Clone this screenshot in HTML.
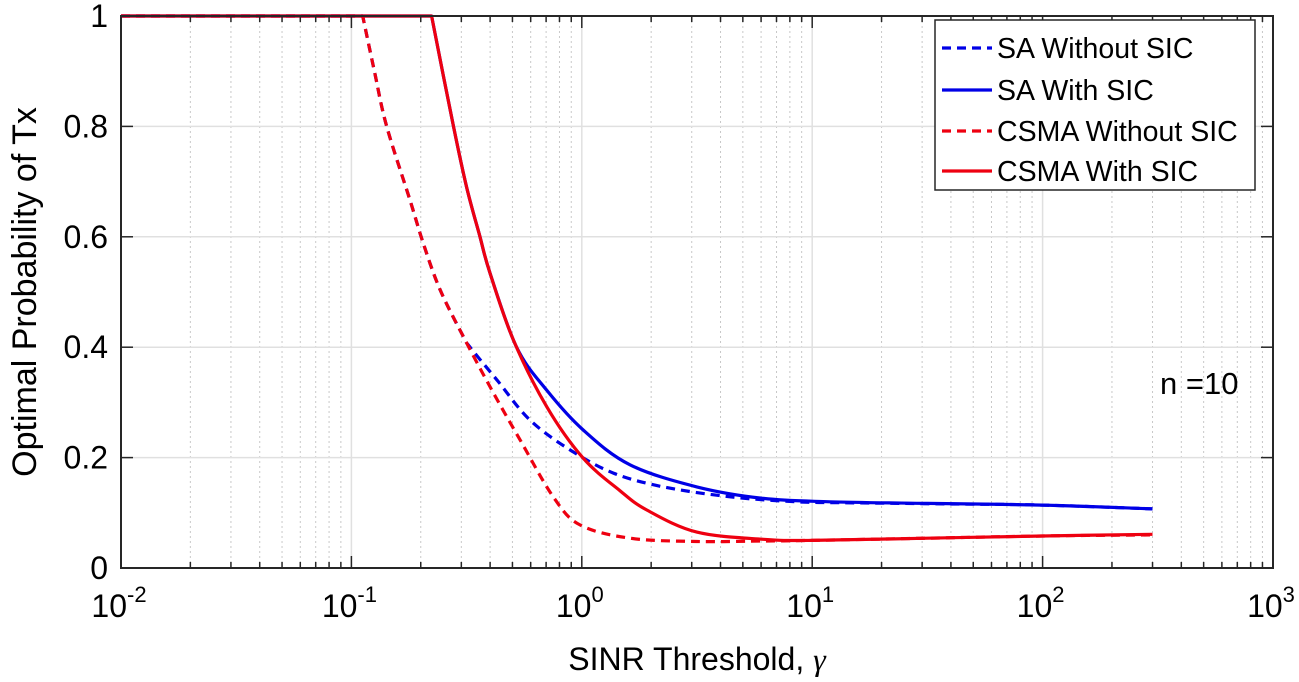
<!DOCTYPE html>
<html><head><meta charset="utf-8"><style>
body{margin:0;background:#fff;}
svg{display:block;font-family:"Liberation Sans",Arial,sans-serif;}
</style></head><body>
<svg id="chart" width="1299" height="682" viewBox="0 0 1299 682"></svg>
<script>
// Data: log10(gamma) and optimal probability
const saWithoutLogX = [-2,-0.951,-0.9,-0.847,-0.746,-0.688,-0.615,-0.514,-0.485,-0.369,-0.225,-0.051,0.137,0.354,0.643,0.932,1.2,1.6,2.0,2.477];
const saWithoutP    = [1,1,0.9,0.8,0.667,0.588,0.504,0.419,0.4,0.341,0.268,0.214,0.172,0.147,0.129,0.12,0.118,0.116,0.114,0.107];
const saWithLogX = [-2,-0.652,-0.557,-0.5,-0.442,-0.399,-0.283,-0.152,0.006,0.209,0.499,0.788,1.077,1.5,2.0,2.477];
const saWithP    = [1,1,0.8,0.69,0.6,0.535,0.4,0.322,0.25,0.187,0.147,0.126,0.12,0.117,0.114,0.107];
const csmaWithoutLogX = [-2,-0.951,-0.9,-0.847,-0.746,-0.688,-0.615,-0.514,-0.398,-0.268,-0.124,-0.008,0.209,0.499,0.8,1.0,1.5,2.0,2.477];
const csmaWithoutP    = [1,1,0.9,0.8,0.667,0.588,0.504,0.419,0.328,0.232,0.129,0.078,0.054,0.048,0.049,0.05,0.054,0.058,0.06];
const csmaWithLogX = [-2,-0.652,-0.557,-0.5,-0.442,-0.399,-0.297,-0.152,0.006,0.166,0.282,0.499,0.788,1.0,1.5,2.0,2.477];
const csmaWithP    = [1,1,0.8,0.69,0.6,0.535,0.413,0.292,0.199,0.14,0.105,0.065,0.052,0.05,0.054,0.058,0.061];
const xTickExps = [-2,-1,0,1,2,3];
const yTicks = [0,0.2,0.4,0.6,0.8,1];
const yTickLabels = ["0","0.2","0.4","0.6","0.8","1"];

const L=121,R=1273,T=16,B=568;
const X=lx=>L+(lx+2)/5*(R-L);
const Y=p=>B-p*(B-T);
const NS="http://www.w3.org/2000/svg";
const svg=document.getElementById('chart');
function mk(tag,attrs,parent){const e=document.createElementNS(NS,tag);for(const k in attrs)e.setAttribute(k,attrs[k]);(parent||svg).appendChild(e);return e;}

const grid=mk('g',{});


for(let d=-2;d<3;d++){for(let m=2;m<=9;m++){const x=X(d+Math.log10(m));mk('line',{x1:x,x2:x,y1:T,y2:B,stroke:'#c8c8c8','stroke-width':1,'stroke-dasharray':'2,3'},grid);}}
xTickExps.forEach(e=>{const x=X(e);mk('line',{x1:x,x2:x,y1:T,y2:B,stroke:'#e0e0e0','stroke-width':1.5},grid);});
yTicks.forEach(v=>{const y=Y(v);mk('line',{x1:L,x2:R,y1:y,y2:y,stroke:'#e0e0e0','stroke-width':1.5},grid);});

function smoothPath(pts){
 let d='M'+pts[0][0].toFixed(1)+','+pts[0][1].toFixed(1);
 for(let i=0;i<pts.length-1;i++){
  const p0=pts[Math.max(0,i-1)],p1=pts[i],p2=pts[i+1],p3=pts[Math.min(pts.length-1,i+2)];
  const k=(i===0)?0:1/6, k2=(i+2>=pts.length)?0:1/6;
  const c1=[p1[0]+(p2[0]-p0[0])*k,p1[1]+(p2[1]-p0[1])*k];
  const c2=[p2[0]-(p3[0]-p1[0])*k2,p2[1]-(p3[1]-p1[1])*k2];
  d+='C'+c1[0].toFixed(1)+','+c1[1].toFixed(1)+' '+c2[0].toFixed(1)+','+c2[1].toFixed(1)+' '+p2[0].toFixed(1)+','+p2[1].toFixed(1);
 }
 return d;
}

const series=[
 [saWithoutLogX,saWithoutP,'#0000e6','9,6','series-sa-without-sic'],
 [saWithLogX,saWithP,'#0000e6','','series-sa-with-sic'],
 [csmaWithoutLogX,csmaWithoutP,'#ee0010','9,6','series-csma-without-sic'],
 [csmaWithLogX,csmaWithP,'#ee0010','','series-csma-with-sic']];
series.forEach(s=>{
 const flat='M'+X(s[0][0]).toFixed(1)+','+Y(s[1][0]).toFixed(1)+'L'+X(s[0][1]).toFixed(1)+','+Y(s[1][1]).toFixed(1);
 const pts=s[0].slice(1).map((lx,i)=>[X(lx),Y(s[1][i+1])]);
 const d=flat+smoothPath(pts).replace(/^M[^C]*/,'');
 const p=mk('path',{d:d,fill:'none',stroke:s[2],'stroke-width':3.2,'stroke-dasharray':s[3]||'none','stroke-linejoin':'round'});
 
 
});

const ax=mk('g',{});


mk('rect',{x:L,y:T,width:R-L,height:B-T,fill:'none',stroke:'#262626','stroke-width':2},ax);
for(let d=-2;d<3;d++){for(let m=2;m<=9;m++){const x=X(d+Math.log10(m));mk('line',{x1:x,x2:x,y1:B,y2:B-6,stroke:'#262626','stroke-width':1.5},ax);mk('line',{x1:x,x2:x,y1:T,y2:T+6,stroke:'#262626','stroke-width':1.5},ax);}}
xTickExps.forEach(e=>{const x=X(e);mk('line',{x1:x,x2:x,y1:B,y2:B-12,stroke:'#262626','stroke-width':1.5},ax);mk('line',{x1:x,x2:x,y1:T,y2:T+12,stroke:'#262626','stroke-width':1.5},ax);
 const t=mk('text',{x:x-2,y:617,'text-anchor':'middle','font-size':32,fill:'#000'},ax);
 
 
 t.appendChild(document.createTextNode('10'));
 const s=mk('tspan',{dy:-15,'font-size':22},t);s.textContent=String(e);});
yTicks.forEach((v,i)=>{const y=Y(v);mk('line',{x1:L,x2:L+12,y1:y,y2:y,stroke:'#262626','stroke-width':1.5},ax);mk('line',{x1:R,x2:R-12,y1:y,y2:y,stroke:'#262626','stroke-width':1.5},ax);
 const t=mk('text',{x:108,y:y+11,'text-anchor':'end','font-size':32,fill:'#000'},ax);
 
 
 t.textContent=yTickLabels[i];});

const xl=mk('text',{x:697,y:670,'text-anchor':'middle','font-size':32,fill:'#000'});


xl.textContent='SINR Threshold, ';
const g=mk('tspan',{'font-family':'"Liberation Serif",serif','font-style':'italic'},xl);g.textContent='γ';
const yl=mk('text',{x:0,y:0,transform:'translate(36,292) rotate(-90)','text-anchor':'middle','font-size':34,fill:'#000'});


yl.textContent='Optimal Probability of Tx';
const ann=mk('text',{x:1160,y:394,'font-size':31,fill:'#000'});


ann.textContent='n =10';

const lg=mk('g',{});


mk('rect',{x:935,y:20,width:320,height:170,fill:'#fff',stroke:'#262626','stroke-width':1.5},lg);
const names=['SA Without SIC','SA With SIC','CSMA Without SIC','CSMA With SIC'];
const legY=[48,90,131,171];
names.forEach((n,i)=>{const y=legY[i];
 mk('line',{x1:942,x2:992,y1:y,y2:y,stroke:series[i][2],'stroke-width':3.2,'stroke-dasharray':series[i][3]||'none'},lg);
 const t=mk('text',{x:997,y:y+10,'font-size':28.5,fill:'#000'},lg);
 
 
 t.textContent=n;});
</script>
</body></html>
